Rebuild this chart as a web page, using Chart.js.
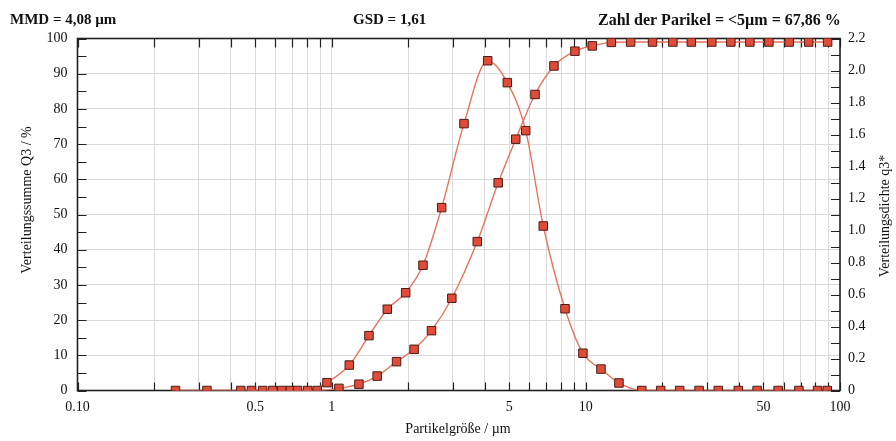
<!DOCTYPE html>
<html>
<head>
<meta charset="utf-8">
<script src="https://cdn.jsdelivr.net/npm/chart.js@4.4.1/dist/chart.umd.min.js"></script>
<style>
html, body { margin: 0; padding: 0; background: #fff; }
#wrap { width: 896px; height: 441px; position: relative; }
</style>
</head>
<body>
<div id="wrap"><canvas id="psd" width="896" height="441"></canvas></div>
<script>
// Verteilungssumme Q3 (left axis, %)
const sumSizes = [0.243, 0.323, 0.439, 0.535, 0.636, 0.734, 0.877, 1.068, 1.28, 1.51, 1.80, 2.11, 2.47, 2.97, 3.74, 4.52, 5.30, 6.31, 7.49, 9.06, 10.6, 12.6, 15.0, 18.3, 22.0, 26.0, 31.3, 37.2, 44.2, 52.5, 63.1, 75.3, 89.4];
const sumValues = [0, 0, 0, 0, 0, 0, 0, 0.6, 1.8, 4.1, 8.2, 11.7, 17.0, 26.2, 42.3, 59.0, 71.4, 84.1, 92.2, 96.4, 97.9, 98.9, 99, 99, 99, 99, 99, 99, 99, 99, 99, 99, 99];

// Verteilungsdichte q3* (right axis)
const densSizes = [0.484, 0.586, 0.686, 0.805, 0.958, 1.173, 1.402, 1.655, 1.955, 2.287, 2.709, 3.316, 4.11, 4.91, 5.80, 6.80, 8.28, 9.74, 11.47, 13.5, 16.6, 19.7, 23.4, 27.9, 33.2, 39.8, 47.2, 57.1, 68.9, 81.6, 89.1];
const densValues = [0, 0, 0, 0, 0.049, 0.159, 0.343, 0.508, 0.611, 0.783, 1.143, 1.668, 2.061, 1.924, 1.624, 1.028, 0.511, 0.233, 0.134, 0.047, 0, 0, 0, 0, 0, 0, 0, 0, 0, 0, 0];

// tick labels
const xLabelValues = [0.1, 0.5, 1, 5, 10, 50, 100];
const xLabelTexts = ['0.10', '0.5', '1', '5', '10', '50', '100'];
const yLeftLabels = ['0', '10', '20', '30', '40', '50', '60', '70', '80', '90', '100'];
const yRightLabels = ['0', '0.2', '0.4', '0.6', '0.8', '1.0', '1.2', '1.4', '1.6', '1.8', '2.0', '2.2'];

const headerLeft = 'MMD = 4,08 µm';
const headerMid = 'GSD = 1,61';
const headerRight = 'Zahl der Parikel = <5µm = 67,86 %';

const serif = '"Liberation Serif", "Times New Roman", serif';
const lineColor = '#e8735e';
const markFill = '#e24a3a';
const markEdge = '#4a1c14';

// 0.1, 0.2 ... 0.9, 1, 2 ... 100
const xGridValues = [];
[0.1, 1, 10].forEach(dec => {
    for (let k = 1; k < 10; k++) xGridValues.push(+(dec * k).toPrecision(3));
});
xGridValues.push(100);

function xLabel(v) {
    const i = xLabelValues.findIndex(l => Math.abs(l - v) < 1e-9);
    return i < 0 ? '' : xLabelTexts[i];
}

const innerTicks = {
    id: 'innerTicks',
    beforeDatasetsDraw(chart) {
        const { ctx, chartArea: a, scales } = chart;
        ctx.save();
        ctx.strokeStyle = '#222';
        ctx.lineWidth = 1.2;
        ctx.beginPath();
        xGridValues.forEach(v => {
            const px = Math.round(scales.x.getPixelForValue(v)) + 0.5;
            ctx.moveTo(px, a.bottom); ctx.lineTo(px, a.bottom - 8);
            ctx.moveTo(px, a.top); ctx.lineTo(px, a.top + 9);
        });
        for (let v = 0; v <= 100; v += 5) {
            const py = Math.round(scales.y.getPixelForValue(v)) + 0.5;
            ctx.moveTo(a.left, py); ctx.lineTo(a.left + 9, py);
        }
        for (let i = 0; i <= 22; i++) {
            const py = Math.round(scales.y1.getPixelForValue(i / 10)) + 0.5;
            ctx.moveTo(a.right, py); ctx.lineTo(a.right - 9, py);
        }
        ctx.stroke();
        ctx.lineWidth = 1.6;
        ctx.strokeRect(a.left, a.top, a.width, a.height);
        ctx.restore();
    }
};

const texts = {
    id: 'texts',
    afterDraw(chart) {
        const ctx = chart.ctx;
        ctx.save();
        ctx.fillStyle = '#111';
        ctx.textBaseline = 'alphabetic';
        ctx.textAlign = 'left';
        ctx.font = 'bold 15px ' + serif;
        ctx.fillText(headerLeft, 10, 24, 116);
        ctx.fillText(headerMid, 353, 24, 90);
        ctx.font = 'bold 16px ' + serif;
        ctx.fillText(headerRight, 598, 25, 257);

        ctx.font = '14px ' + serif;
        ctx.textAlign = 'center';
        ctx.textBaseline = 'middle';
        ctx.fillText('Partikelgröße / µm', 458, 429);

        ctx.save();
        ctx.translate(27, 200);
        ctx.rotate(-Math.PI / 2);
        ctx.fillText('Verteilungssumme Q3 / %', 0, 0);
        ctx.restore();

        ctx.save();
        ctx.translate(885, 216);
        ctx.rotate(-Math.PI / 2);
        ctx.fillText('Verteilungsdichte q3*', 0, 0);
        ctx.restore();
        ctx.restore();
    }
};

const pointStyle = {
    pointStyle: 'rect',
    pointRadius: 6,
    pointHoverRadius: 6,
    pointBackgroundColor: markFill,
    pointBorderColor: markEdge,
    pointBorderWidth: 1,
    borderColor: lineColor,
    borderWidth: 1.4,
    showLine: true,
    cubicInterpolationMode: 'monotone',
    fill: false
};

new Chart(document.getElementById('psd').getContext('2d'), {
    type: 'scatter',
    data: {
        datasets: [
            Object.assign({
                label: 'Q3',
                yAxisID: 'y',
                data: sumSizes.map((s, i) => ({ x: s, y: sumValues[i] }))
            }, pointStyle),
            Object.assign({
                label: 'q3*',
                yAxisID: 'y1',
                data: densSizes.map((s, i) => ({ x: s, y: densValues[i] }))
            }, pointStyle)
        ]
    },
    options: {
        responsive: false,
        animation: false,
        layout: { padding: { top: 38.5, left: 0, right: 0, bottom: 0 } },
        plugins: {
            legend: { display: false },
            tooltip: { enabled: false }
        },
        scales: {
            x: {
                type: 'logarithmic',
                position: 'bottom',
                min: 0.1,
                max: 100,
                afterBuildTicks: s => { s.ticks = xGridValues.map(v => ({ value: v })); },
                afterFit: s => { s.height = 50.5; },
                grid: { color: '#dadada', lineWidth: 1, drawTicks: false },
                border: { display: false },
                ticks: {
                    autoSkip: false,
                    maxRotation: 0,
                    padding: 8,
                    color: '#111',
                    font: { family: serif, size: 14 },
                    callback: v => xLabel(v)
                }
            },
            y: {
                position: 'left',
                min: 0,
                max: 100,
                afterFit: s => { s.width = 77.5; },
                grid: { color: '#dadada', lineWidth: 1, drawTicks: false },
                border: { display: false },
                ticks: {
                    stepSize: 5,
                    padding: 10,
                    color: '#111',
                    font: { family: serif, size: 14 },
                    callback: v => (v % 10 === 0 ? yLeftLabels[v / 10] : '')
                }
            },
            y1: {
                position: 'right',
                min: 0,
                max: 2.2,
                afterBuildTicks: s => { s.ticks = yRightLabels.map(t => ({ value: parseFloat(t) })); },
                afterFit: s => { s.width = 56; },
                grid: { display: false, drawTicks: false },
                border: { display: false },
                ticks: {
                    autoSkip: false,
                    padding: 8,
                    color: '#111',
                    font: { family: serif, size: 14 },
                    callback: (v, i) => yRightLabels[i]
                }
            }
        }
    },
    plugins: [innerTicks, texts]
});
</script>
</body>
</html>
